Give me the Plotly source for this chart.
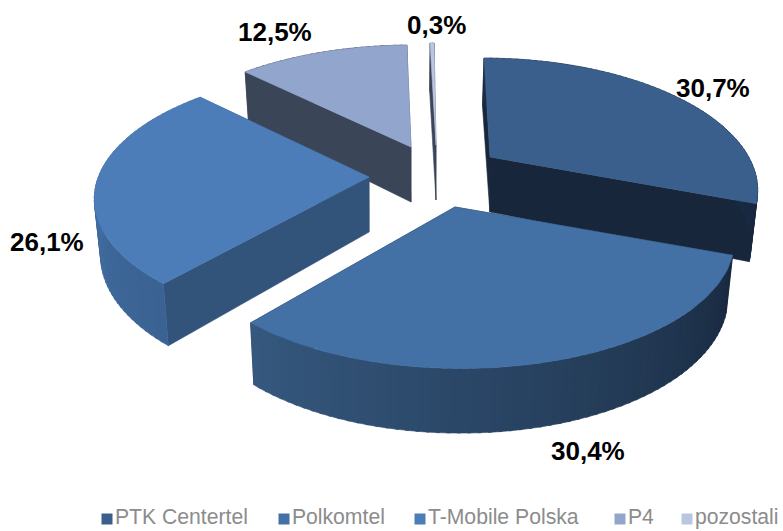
import math
import plotly.graph_objects as go

categories = ["PTK Centertel", "Polkomtel", "T-Mobile Polska", "P4", "pozostali"]
shares = [30.7, 30.4, 26.1, 12.5, 0.3]
share_labels = ["30,7%", "30,4%", "26,1%", "12,5%", "0,3%"]

top_colors = ["#3A5F8C", "#4371A6", "#4D7DB8", "#92A6CD", "#B9C6E0"]
cut_colors = ["#17263A", "#17263A", "#32537A", "#3B4558", "#3B4558"]
wall_from = ["#1A2C44", "#18293F", "#3A6393", "#3B4558", "#3B4558"]
wall_to = ["#18293F", "#36597F", "#4A76AA", "#3B4558", "#3B4558"]

# Projection settings (screen pixels)
RX, RY = 260, 126
VANISH_X = 410
DEPTH = 55
apex = [(490, 157), (455, 207), (369, 177), (411, 147), (436, 145)]
slice_scale = [(0.995, 0.97), (1.03, 0.97), (1.045, 1.0), (1.03, 1.0), (1.0, 1.0)]
slice_persp = [0.236, 0.236, 0.137, 0.236, 0.236]
arc_dx = [0, 3, 0, 0, 0]
arc_dy = [0, 1.5, 3, 0, 0]
arc_turn = [0, 0, 0.04, 0, 0]
draw_order = [3, 4, 0, 2, 1]
label_pos = [(713, 88), (588, 451), (47, 242), (275, 32), (436, 25)]
legend_x = [107, 284, 420, 620, 687]
legend_y = 519


def top_point(i, t):
    t = t + arc_turn[i]
    u, v = math.sin(t), math.cos(t)
    s = 1 / (1 + slice_persp[i] * v)
    ax, ay = apex[i]
    sx, sy = slice_scale[i]
    skew = -(ax - VANISH_X) * 0.075 * v
    return ax + arc_dx[i] + RX * sx * u * s + skew, ay + arc_dy[i] - RY * sy * v * s


def bottom_point(i, p, v):
    s = 1 / (1 + 0.236 * v)
    return VANISH_X + (p[0] - VANISH_X) * 0.98, p[1] + DEPTH * s ** 0.6


def mix(a, b, f):
    ca = [int(a[k:k + 2], 16) for k in (1, 3, 5)]
    cb = [int(b[k:k + 2], 16) for k in (1, 3, 5)]
    return "rgb(%d,%d,%d)" % tuple(round(x + (y - x) * f) for x, y in zip(ca, cb))


def poly(fig, pts, color):
    xs = [p[0] for p in pts] + [pts[0][0]]
    ys = [p[1] for p in pts] + [pts[0][1]]
    fig.add_trace(go.Scatter(x=xs, y=ys, mode="lines", fill="toself", fillcolor=color,
                             line=dict(color=color, width=0.6), hoverinfo="skip", showlegend=False))


fig = go.Figure()
bounds = []
acc = 0.0
for v in shares:
    bounds.append((acc / 100 * 2 * math.pi, (acc + v) / 100 * 2 * math.pi))
    acc += v

for i in draw_order:
    t0, t1 = bounds[i]
    ax, ay = apex[i]
    apex_bottom = (VANISH_X + (ax - VANISH_X) * 0.998, ay + DEPTH)
    # cut faces
    for t in (t0, t1):
        p = top_point(i, t)
        poly(fig, [(ax, ay), p, bottom_point(i, p, math.cos(t)), apex_bottom], cut_colors[i])
    # outer wall as a gradient of strips
    n = max(2, int((t1 - t0) / 0.03))
    for k in range(n):
        a = t0 + (t1 - t0) * k / n
        b = min(t0 + (t1 - t0) * (k + 1.3) / n, t1)
        pa, pb = top_point(i, a), top_point(i, b)
        color = mix(wall_from[i], wall_to[i], k / n)
        poly(fig, [pa, pb, bottom_point(i, pb, math.cos(b)), bottom_point(i, pa, math.cos(a))], color)
    # top face
    steps = max(3, int((t1 - t0) / 0.02))
    arc = [top_point(i, t0 + (t1 - t0) * k / steps) for k in range(steps + 1)]
    poly(fig, [(ax, ay)] + arc, top_colors[i])

# Legend row
for name, color, x in zip(categories, top_colors, legend_x):
    fig.add_trace(go.Scatter(x=[x], y=[legend_y], mode="markers+text", name=name, text=[name],
                             textposition="middle right",
                             textfont=dict(family="Liberation Sans", size=21.2, color="#8C8C8C"),
                             marker=dict(symbol="square", size=11, color=color),
                             hoverinfo="skip", showlegend=False, cliponaxis=False))

for text, (x, y) in zip(share_labels, label_pos):
    fig.add_annotation(x=x, y=y, text="<b>" + text + "</b>", showarrow=False,
                       font=dict(family="Liberation Sans", size=26, color="#000000"),
                       xanchor="center", yanchor="middle")

fig.update_layout(
    width=783, height=531, margin=dict(l=0, r=0, t=0, b=0, autoexpand=False),
    paper_bgcolor="white", plot_bgcolor="white",
    xaxis=dict(range=[0, 783], visible=False, fixedrange=True),
    yaxis=dict(range=[531, 0], visible=False, fixedrange=True),
    showlegend=False,
)
fig.write_html("out.html", config={"displayModeBar": False},
               post_script="document.body.style.margin='0';")
